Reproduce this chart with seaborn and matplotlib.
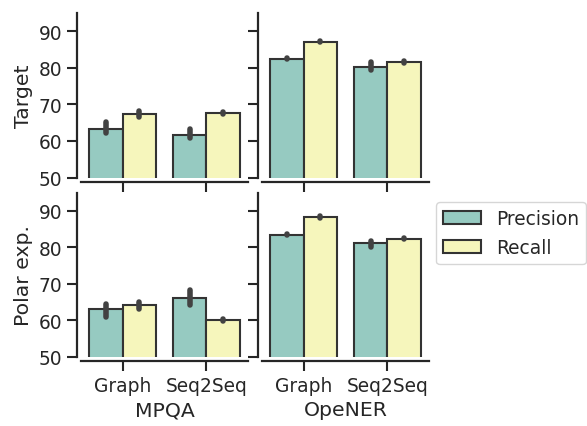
import numpy as np
import pandas as pd
import matplotlib
matplotlib.use("Agg")
import matplotlib.pyplot as plt
from matplotlib.patches import Patch
import seaborn as sns

# categories
datasets = ["MPQA", "OpeNER"]
setups = ["Target", "Polar exp."]
models = ["Graph", "Seq2Seq"]
measures = ["Precision", "Recall"]

# three runs for each bar, order: Graph-P, Graph-R, Seq2Seq-P, Seq2Seq-R
mpqa_target = [[62.1, 62.9, 65.2], [66.6, 67.2, 68.1], [60.7, 61.0, 63.4], [67.4, 67.5, 67.9]]
opener_target = [[82.4, 82.5, 82.6], [87.0, 87.2, 87.4], [79.4, 79.6, 81.6], [81.3, 81.4, 81.8]]
mpqa_polar = [[61.0, 64.0, 64.4], [63.0, 64.9, 65.0], [64.3, 65.7, 68.3], [59.9, 60.1, 60.3]]
opener_polar = [[83.4, 83.5, 83.6], [88.0, 88.5, 88.7], [80.0, 81.5, 81.8], [82.2, 82.4, 82.6]]

blocks = {
    ("Target", "MPQA"): mpqa_target,
    ("Target", "OpeNER"): opener_target,
    ("Polar exp.", "MPQA"): mpqa_polar,
    ("Polar exp.", "OpeNER"): opener_polar,
}

rows = []
for (setup, dataset), runs in blocks.items():
    i = 0
    for model in models:
        for measure in measures:
            for v in runs[i]:
                rows.append(dict(setup=setup, dataset=dataset, model=model, measure=measure, score=v))
            i += 1
df = pd.DataFrame(rows)

sns.set_theme(style="ticks", context="notebook", font_scale=1.22,
              rc={"axes.linewidth": 1.6, "xtick.major.width": 1.5, "ytick.major.width": 1.5,
                  "xtick.major.size": 7, "ytick.major.size": 7})

g = sns.catplot(data=df, x="model", y="score", hue="measure", col="dataset", row="setup",
                kind="bar", palette="Set3", edgecolor=".2", linewidth=1.5,
                order=models, hue_order=measures, col_order=datasets, row_order=setups,
                err_kws={"linewidth": 4, "solid_capstyle": "round"},
                legend=False, seed=0, height=2, aspect=1)
g.figure.set_size_inches(5.87, 4.27)
g.set_titles("")
g.set(ylim=(50, 95), yticks=[50, 60, 70, 80, 90])
for ax in g.axes.flat:
    ax.set_xlabel("")
    ax.set_ylabel("")
g.axes[0, 0].set_ylabel("Target")
g.axes[1, 0].set_ylabel("Polar exp.")
g.axes[1, 0].set_xlabel("MPQA")
g.axes[1, 1].set_xlabel("OpeNER")
g.despine(offset=3)
g.figure.subplots_adjust(left=0.138, right=0.7308, bottom=0.1616, top=0.967,
                         wspace=0.084, hspace=0.0915)

# legend from the bar colours actually drawn
ax0 = g.axes[0, 0]
handles = []
for c, lab in zip(ax0.containers, measures):
    p = c.patches[0]
    handles.append(Patch(facecolor=p.get_facecolor(), edgecolor=p.get_edgecolor(),
                         linewidth=p.get_linewidth(), label=lab))
g.figure.legend(handles=handles, loc="upper left", borderaxespad=0,
                bbox_to_anchor=(436 / 587, 1 - 203 / 427))

plt.savefig("out.png", dpi=100)
